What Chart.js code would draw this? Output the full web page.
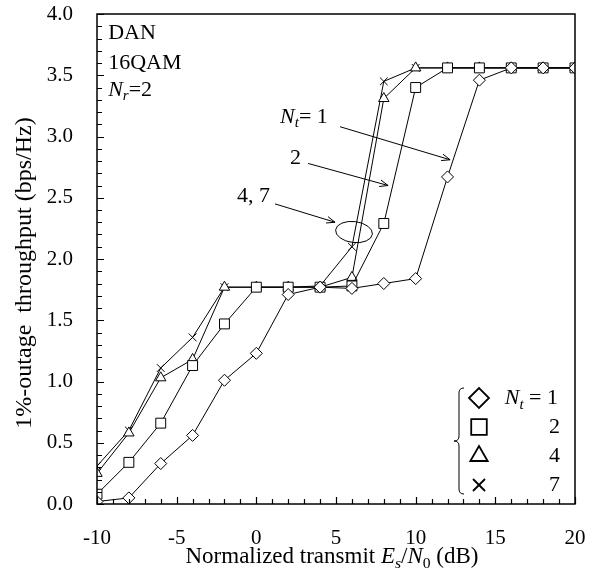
<!DOCTYPE html>
<html>
<head>
<meta charset="utf-8">
<script src="https://cdn.jsdelivr.net/npm/chart.js@4/dist/chart.umd.min.js"></script>
<style>
  html, body { margin: 0; padding: 0; background: #fff; }
  #wrap { width: 611px; height: 576px; }
</style>
</head>
<body>
<div id="wrap"><canvas id="chart" width="611" height="576"></canvas></div>
<script>
// Es/N0 (dB) sample points
const snr = [-10, -8, -6, -4, -2, 0, 2, 4, 6, 8, 10, 12, 14, 16, 18, 20];

// 1%-outage throughput (bps/Hz) per number of transmit antennas
const nt1 = [0.02, 0.05, 0.33, 0.56, 1.01, 1.23, 1.71, 1.77, 1.76, 1.80, 1.84, 2.67, 3.46, 3.56, 3.56, 3.56];
const nt2 = [0.08, 0.34, 0.66, 1.13, 1.47, 1.77, 1.77, 1.77, 1.78, 2.29, 3.40, 3.56, 3.56, 3.56, 3.56, 3.56];
const nt4 = [0.25, 0.58, 1.03, 1.18, 1.77, 1.77, 1.77, 1.77, 1.85, 3.31, 3.56, 3.56, 3.56, 3.56, 3.56, 3.56];
const nt7 = [0.31, 0.60, 1.11, 1.36, 1.77, 1.77, 1.77, 1.78, 2.10, 3.45, 3.56, 3.56, 3.56, 3.56, 3.56, 3.56];

const xTicks = [-10, -5, 0, 5, 10, 15, 20];
const yTicks = [0, 0.5, 1, 1.5, 2, 2.5, 3, 3.5, 4];
const legendLabels = ['1', '2', '4', '7'];

const SERIF = '"Liberation Serif", "Times New Roman", serif';

const series = [
  { data: nt1, style: 'rectRot', r: 6, lr: 10 },
  { data: nt2, style: 'rect', r: 7, lr: 11 },
  { data: nt4, style: 'triangle', r: 6, lr: 10 },
  { data: nt7, style: 'crossRot', r: 5.5, lr: 8.5 }
];

// draw a run of text pieces: [text, 'i' italic | 's' sub | 'is' italic sub]
function richText(ctx, parts, x, y, size, align) {
  const font = (p) => {
    const it = p[1] && p[1].includes('i') ? 'italic ' : '';
    const sz = p[1] && p[1].includes('s') ? size * 0.68 : size;
    return `${it}${sz}px ${SERIF}`;
  };
  let total = 0;
  parts.forEach(p => { ctx.font = font(p); total += ctx.measureText(p[0]).width; });
  let cx = align === 'center' ? x - total / 2 : align === 'right' ? x - total : x;
  ctx.textAlign = 'left';
  ctx.textBaseline = 'middle';
  parts.forEach(p => {
    ctx.font = font(p);
    const dy = p[1] && p[1].includes('s') ? size * 0.3 : 0;
    ctx.fillText(p[0], cx, y + dy);
    cx += ctx.measureText(p[0]).width;
  });
}

function arrow(ctx, x1, y1, x2, y2) {
  ctx.beginPath();
  ctx.moveTo(x1, y1);
  ctx.lineTo(x2, y2);
  const a = Math.atan2(y2 - y1, x2 - x1);
  const L = 9, w = 0.38;
  ctx.moveTo(x2 - L * Math.cos(a - w), y2 - L * Math.sin(a - w));
  ctx.lineTo(x2, y2);
  ctx.lineTo(x2 - L * Math.cos(a + w), y2 - L * Math.sin(a + w));
  ctx.stroke();
}

const decor = {
  id: 'decor',
  afterDraw(chart) {
    const { ctx, chartArea: ca, scales: { x, y } } = chart;
    ctx.save();
    ctx.strokeStyle = '#000';
    ctx.fillStyle = '#000';

    // frame
    ctx.lineWidth = 1.5;
    ctx.strokeRect(ca.left, ca.top, ca.right - ca.left, ca.bottom - ca.top);

    // inward ticks
    ctx.lineWidth = 1.2;
    ctx.beginPath();
    for (let i = 0; i <= 40; i++) {
      const py = Math.round(y.getPixelForValue(i / 10)) + 0.5;
      const len = i % 5 === 0 ? 7 : 5;
      ctx.moveTo(ca.left, py); ctx.lineTo(ca.left + len, py);
    }
    for (let d = -10; d <= 20; d++) {
      const px = Math.round(x.getPixelForValue(d)) + 0.5;
      const len = d % 5 === 0 ? 7 : 5;
      ctx.moveTo(px, ca.bottom); ctx.lineTo(px, ca.bottom - len);
    }
    ctx.stroke();

    // axis titles
    richText(ctx, [['Normalized transmit '], ['E', 'i'], ['s', 'is'], ['/'], ['N', 'i'], ['0', 's'], [' (dB)']],
      (ca.left + ca.right) / 2 - 4, 557, 23, 'center');
    ctx.save();
    ctx.translate(25, (ca.top + ca.bottom) / 2 + 14);
    ctx.rotate(-Math.PI / 2);
    richText(ctx, [['1%-outage  throughput (bps/Hz)']], 0, 0, 24, 'center');
    ctx.restore();

    // condition labels
    const lx = x.getPixelForValue(-9.3);
    richText(ctx, [['DAN']], lx, y.getPixelForValue(3.84), 22, 'left');
    richText(ctx, [['16QAM']], lx, y.getPixelForValue(3.60), 22, 'left');
    richText(ctx, [['N', 'i'], ['r', 'is'], ['=2']], lx, y.getPixelForValue(3.38), 22, 'left');

    // curve annotations
    ctx.lineWidth = 1;
    richText(ctx, [['N', 'i'], ['t', 'is'], ['= 1']], x.getPixelForValue(1.49), y.getPixelForValue(3.16), 22, 'left');
    arrow(ctx, x.getPixelForValue(5.25), y.getPixelForValue(3.08), x.getPixelForValue(12.16), y.getPixelForValue(2.81));
    richText(ctx, [['2']], x.getPixelForValue(2.12), y.getPixelForValue(2.82), 22, 'left');
    arrow(ctx, x.getPixelForValue(3.25), y.getPixelForValue(2.78), x.getPixelForValue(8.27), y.getPixelForValue(2.60));
    richText(ctx, [['4, 7']], x.getPixelForValue(-1.21), y.getPixelForValue(2.51), 22, 'left');
    arrow(ctx, x.getPixelForValue(1.17), y.getPixelForValue(2.45), x.getPixelForValue(4.94), y.getPixelForValue(2.30));
    ctx.beginPath();
    ctx.ellipse(x.getPixelForValue(6.13), y.getPixelForValue(2.22), 18.5, 10.5, 0.12, 0, Math.PI * 2);
    ctx.stroke();

    // legend with brace
    const mx = ca.right - 96, tx = ca.right - 15, rows = [398, 427, 456, 485];
    series.forEach((s, i) => {
      ctx.save();
      ctx.lineWidth = 1.8;
      ctx.fillStyle = '#fff';
      ctx.strokeStyle = '#000';
      Chart.helpers.drawPoint(ctx, { pointStyle: s.style, radius: s.lr, rotation: 0, borderWidth: 1.8 }, mx, rows[i]);
      ctx.restore();
      if (i === 0) {
        richText(ctx, [['N', 'i'], ['t', 'is'], [' = ' + legendLabels[i]]], tx - 2, rows[i], 22, 'right');
      } else {
        richText(ctx, [[legendLabels[i]]], tx, rows[i], 22, 'right');
      }
    });
    const bx = ca.right - 116, top = 388, bot = 494, mid = 441;
    ctx.lineWidth = 1;
    ctx.beginPath();
    ctx.moveTo(bx + 5, top);
    ctx.quadraticCurveTo(bx, top, bx, top + 5);
    ctx.lineTo(bx, mid - 5);
    ctx.quadraticCurveTo(bx, mid, bx - 5, mid);
    ctx.quadraticCurveTo(bx, mid, bx, mid + 5);
    ctx.lineTo(bx, bot - 5);
    ctx.quadraticCurveTo(bx, bot, bx + 5, bot);
    ctx.stroke();

    ctx.restore();
  }
};

new Chart(document.getElementById('chart').getContext('2d'), {
  type: 'line',
  data: {
    labels: snr,
    datasets: series.map(s => ({
      data: s.data.map((v, i) => ({ x: snr[i], y: v })),
      borderColor: '#000',
      borderWidth: 1,
      pointStyle: s.style,
      pointRadius: s.r,
      pointBorderWidth: 1,
      pointBorderColor: '#000',
      pointBackgroundColor: '#fff',
      tension: 0,
      fill: false
    }))
  },
  options: {
    responsive: false,
    animation: false,
    events: [],
    layout: { padding: { left: 0, top: 14, right: 36, bottom: 0 } },
    plugins: { legend: { display: false }, tooltip: { enabled: false } },
    scales: {
      x: {
        type: 'linear', min: -10, max: 20,
        afterBuildTicks: s => { s.ticks = xTicks.map(v => ({ value: v })); },
        afterFit: s => { s.height = 72; s.paddingLeft = 0; s.paddingRight = 0; },
        grid: { display: false, drawTicks: false },
        border: { display: false },
        ticks: { color: '#000', font: { family: SERIF, size: 21 }, padding: 22, maxRotation: 0, autoSkip: false }
      },
      y: {
        type: 'linear', min: 0, max: 4,
        afterBuildTicks: s => { s.ticks = yTicks.map(v => ({ value: v })); },
        afterFit: s => { s.width = 97; s.paddingTop = 0; s.paddingBottom = 0; },
        grid: { display: false, drawTicks: false },
        border: { display: false },
        ticks: { color: '#000', font: { family: SERIF, size: 21 }, padding: 24, callback: v => v.toFixed(1), autoSkip: false }
      }
    }
  },
  plugins: [decor]
});
</script>
</body>
</html>
